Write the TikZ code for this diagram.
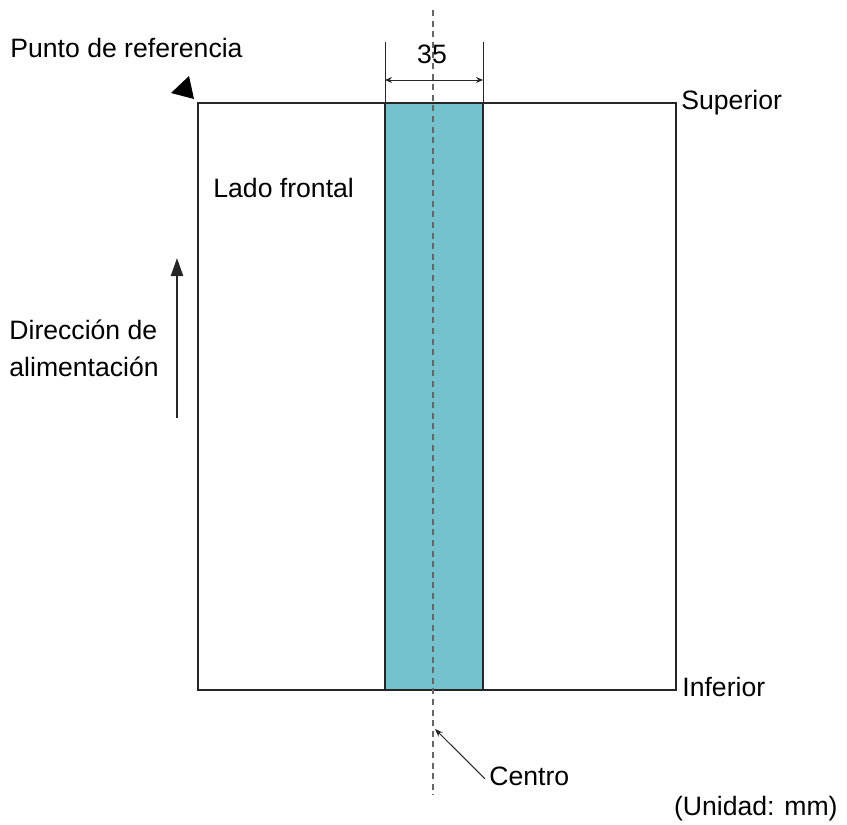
\documentclass[tikz,border=0pt]{standalone}
\usepackage{fontspec}
\setmainfont{Liberation Sans}
\usepackage{xcolor}
\usetikzlibrary{arrows.meta}
\definecolor{strip-blue}{RGB}{116,194,206}
\tikzset{
    label-text/.style = {inner sep=0pt, font=\fontsize{13.3}{18.5}\selectfont},
    sheet-line/.style = {draw=black!85, line width=1.1pt},
    dim-line/.style = {draw=black!85, line width=0.5pt},
    centre-line/.style = {draw=black!60, line width=0.7pt, dash pattern=on 3pt off 2.3pt},
}

\begin{document}
\begin{tikzpicture}[x=0.5pt, y=-0.5pt]
\useasboundingbox (0,0) rectangle (847,825);
% sheet and scanned strip
\fill[strip-blue] (385,103) rectangle (483,690);
\draw[sheet-line] (198,103) rectangle (676,690);
\draw[sheet-line] (385,103) -- (385,690) (483,103) -- (483,690);
\draw[centre-line] (433,10) -- (433,795);
\fill[black] (189,76) -- (171,93) -- (194,99) -- cycle;

% labels
\node[label-text, anchor=base west] (refpoint) at (10,57) {Punto de referencia};
\node[label-text, anchor=base] (width) at (432,63) {35};
\node[label-text, anchor=base west] (top) at (681,109) {Superior};
\node[label-text, anchor=base west] (bottom) at (682,696) {Inferior};
\node[label-text, anchor=base west] (front) at (213,197) {Lado frontal};
\node[label-text, anchor=north west, align=left] (feed) at (9,320) {Direcci\'on de\\alimentaci\'on};
\node[label-text, anchor=base west] (centre) at (489,785) {Centro};
\node[label-text, anchor=base east] (unit) at (838,815) {(Unidad: mm)};

% dimension
\coordinate (dimL) at (385,80);
\coordinate (dimR) at (483,80);
\draw[dim-line] (385,42) -- (385,103) (483,42) -- (483,103);
\draw[dim-line, {Stealth[length=3.5pt,width=3pt]}-{Stealth[length=3.5pt,width=3pt]}] (dimL) -- (dimR);

% feed direction
\coordinate (feedA) at (177,418);
\coordinate (feedB) at (177,258);
\draw[sheet-line, -{Triangle[length=9pt,width=6pt]}] (feedA) -- (feedB);

% centre pointer
\coordinate (centreTip) at (435,729);
\draw[dim-line, -{Stealth[length=4pt,width=3pt]}] ([xshift=-2pt,yshift=-1.5pt]centre.west) -- (centreTip);
\end{tikzpicture}
\end{document}
